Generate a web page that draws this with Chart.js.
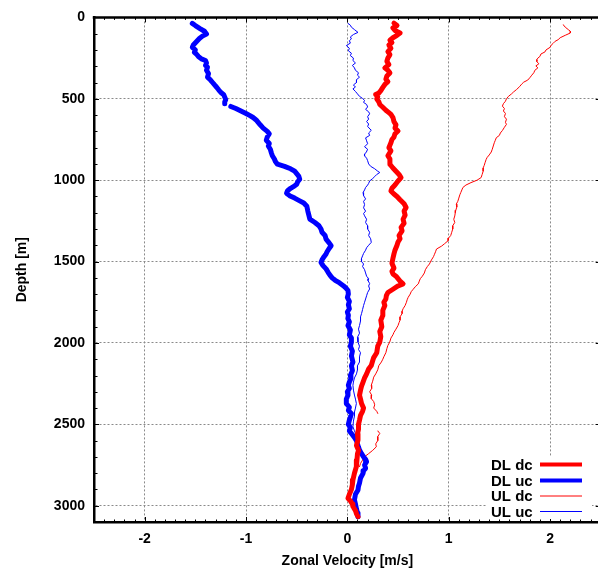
<!DOCTYPE html>
<html>
<head>
<meta charset="utf-8">
<title>Zonal Velocity Profiles</title>
<script src="https://cdn.jsdelivr.net/npm/chart.js@4/dist/chart.umd.min.js"></script>
<style>
  html, body { margin: 0; padding: 0; background: #fff; overflow: hidden; }
  #wrap { position: absolute; left: 0; top: 0; width: 604px; height: 572px; }
</style>
</head>
<body>
<div id="wrap"><canvas id="c" width="604" height="572"></canvas></div>
<script>
// Axis ticks
const velocityTicks = [-2, -1, 0, 1, 2];
const depthTicks = [0, 500, 1000, 1500, 2000, 2500, 3000];

// DL dc (downcast, lowered ADCP)
const depthDLdc = [35, 50, 65, 80, 96, 110, 125, 140, 155, 170, 190, 210, 229, 250, 270, 290, 310, 325, 341, 360,
  380, 395, 412, 430, 450, 465, 474, 487, 500, 518, 535, 552, 570, 585, 596, 615, 640, 660, 680, 698,
  715, 735, 750, 770, 800, 820, 850, 870, 902, 925, 945, 965, 984, 1005, 1030, 1050, 1066, 1085, 1100, 1120,
  1145, 1168, 1190, 1215, 1240, 1265, 1290, 1311, 1340, 1360, 1380, 1400, 1430, 1453, 1480, 1510, 1540, 1560, 1576, 1590,
  1605, 1620, 1637, 1650, 1670, 1690, 1709, 1730, 1750, 1770, 1800, 1831, 1860, 1900, 1930, 1960, 1995, 2020, 2060, 2090,
  2110, 2138, 2160, 2190, 2215, 2240, 2265, 2290, 2321, 2345, 2372, 2400, 2420, 2445, 2474, 2500, 2530, 2560, 2597, 2630,
  2660, 2680, 2720, 2760, 2800, 2842, 2870, 2900, 2930, 2954, 2970, 2990, 3005, 3030, 3050, 3067];
const velDLdc = [0.46, 0.49, 0.45, 0.47, 0.52, 0.49, 0.45, 0.42, 0.44, 0.41, 0.43, 0.40, 0.42, 0.40, 0.39, 0.41, 0.37, 0.40, 0.42, 0.39,
  0.38, 0.40, 0.37, 0.35, 0.33, 0.31, 0.28, 0.30, 0.29, 0.31, 0.32, 0.35, 0.38, 0.41, 0.43, 0.45, 0.46, 0.48, 0.47, 0.50,
  0.47, 0.46, 0.44, 0.43, 0.41, 0.43, 0.40, 0.42, 0.42, 0.45, 0.48, 0.51, 0.53, 0.50, 0.47, 0.44, 0.43, 0.46, 0.49, 0.52,
  0.56, 0.58, 0.56, 0.57, 0.55, 0.56, 0.53, 0.54, 0.51, 0.52, 0.50, 0.49, 0.47, 0.46, 0.45, 0.44, 0.46, 0.44, 0.45, 0.48,
  0.50, 0.52, 0.55, 0.50, 0.45, 0.40, 0.385, 0.38, 0.36, 0.37, 0.35, 0.35, 0.33, 0.34, 0.32, 0.33, 0.32, 0.30, 0.29, 0.26,
  0.25, 0.236, 0.21, 0.19, 0.17, 0.155, 0.14, 0.13, 0.12, 0.13, 0.14, 0.16, 0.15, 0.13, 0.12, 0.11, 0.11, 0.10, 0.105, 0.09,
  0.11, 0.10, 0.095, 0.089, 0.07, 0.055, 0.05, 0.04, 0.02, 0.006, 0.03, 0.05, 0.055, 0.08, 0.09, 0.105];

// DL uc (upcast, lowered ADCP)
const depthDLuc = [37, 50, 70, 85, 102, 115, 130, 150, 170, 184, 200, 215, 225, 240, 255, 265, 280, 295, 306, 325,
  345, 367, 385, 400, 415, 429, 445, 460, 475, 490, 505, 520, 530, null, 547, 560, 575, 590, 602, 615,
  630, 645, 660, 680, 700, 715, 735, 755, 775, 790, 810, 831, 850, 870, 885, 902, 915, 930, 945, 960,
  975, 994, 1010, 1025, 1035, 1050, 1065, 1080, 1095, 1110, 1127, 1140, 1160, 1190, 1215, 1239, 1260, 1280, 1300, 1320,
  1340, 1362, 1385, 1403, 1420, 1440, 1453, 1470, 1490, 1505, 1525, 1545, 1566, 1585, 1600, 1615, 1630, 1648, 1665, 1678,
  1700, 1720, 1745, 1765, 1790, 1810, 1830, 1850, 1870, 1893, 1920, 1950, 1970, 1995, 2020, 2050, 2080, 2117, 2140, 2170,
  2200, 2220, 2240, 2260, 2280, 2300, 2321, 2345, 2372, 2395, 2415, 2433, 2455, 2474, 2500, 2520, 2540, 2556, 2580, 2600,
  2620, 2640, 2658, 2680, 2700, 2715, 2730, 2750, 2770, 2785, 2801, 2830, 2860, 2880, 2903, 2930, 2964, 2990, 3020, 3045,
  3067];
const velDLuc = [-1.53, -1.50, -1.45, -1.41, -1.39, -1.43, -1.46, -1.49, -1.52, -1.53, -1.50, -1.51, -1.49, -1.47, -1.44, -1.40, -1.39, -1.40, -1.38, -1.39,
  -1.37, -1.38, -1.35, -1.33, -1.31, -1.29, -1.27, -1.25, -1.22, -1.21, -1.20, -1.21, -1.21, null, -1.15, -1.10, -1.05, -1.00, -0.965, -0.93,
  -0.90, -0.88, -0.86, -0.83, -0.79, -0.77, -0.79, -0.80, -0.77, -0.78, -0.76, -0.75, -0.74, -0.72, -0.71, -0.69, -0.62, -0.56, -0.52, -0.50,
  -0.48, -0.47, -0.49, -0.50, -0.52, -0.56, -0.59, -0.60, -0.57, -0.52, -0.47, -0.43, -0.40, -0.39, -0.38, -0.37, -0.32, -0.28, -0.26, -0.25,
  -0.22, -0.21, -0.18, -0.16, -0.18, -0.20, -0.21, -0.23, -0.25, -0.26, -0.24, -0.21, -0.19, -0.17, -0.15, -0.12, -0.08, -0.04, -0.01, 0.006,
  0.01, 0.00, 0.02, 0.01, 0.02, 0.00, 0.01, 0.005, 0.02, 0.006, 0.03, 0.02, 0.04, 0.04, 0.03, 0.05, 0.04, 0.055, 0.04, 0.05,
  0.03, 0.035, 0.02, 0.01, 0.02, 0.00, 0.006, -0.01, -0.01, 0.02, 0.01, 0.04, 0.03, 0.02, 0.01, 0.03, 0.02, 0.04, 0.07, 0.09,
  0.10, 0.11, 0.12, 0.14, 0.16, 0.18, 0.19, 0.17, 0.18, 0.16, 0.155, 0.13, 0.12, 0.11, 0.105, 0.08, 0.07, 0.08, 0.09, 0.10,
  0.105];

// UL dc (downcast, upward-looking ADCP)
const depthULdc = [45, 60, 75, 85, 96, 110, 125, 137, 147, 160, 172, 184, 200, 212, 225, 240, 250, 259, 272, 285,
  298, 310, 325, 340, 355, 371, 385, 398, 410, 425, 443, 458, 470, 485, 500, 515, 530, 545, 560, 575,
  590, 610, 625, 645, 657, 675, 695, 710, 725, 739, 755, 770, 790, 810, 827, 845, 860, 872, 890, 910,
  925, 945, 965, 984, 1000, 1015, 1030, 1045, 1060, 1075, 1090, 1110, 1130, 1147, 1165, 1185, 1200, 1220, 1240, 1260,
  1280, 1300, 1320, 1340, 1355, 1372, 1390, 1405, 1423, 1440, 1455, 1470, 1490, 1515, 1530, 1550, 1570, 1590, 1605, 1620,
  1637, 1655, 1670, 1685, 1700, 1720, 1735, 1750, 1770, 1790, 1805, 1820, 1840, 1860, 1875, 1893, 1915, 1935, 1950, 1970,
  1995, 2015, 2035, 2060, 2085, 2100, 2117, 2140, 2165, 2190, 2210, 2235, 2260, 2280, 2300, 2320, 2342, 2360, 2380, 2400,
  2420, 2433, null, 2540, 2556, 2575, 2600, 2620, 2638, 2660, 2680, 2699, 2720, 2740, 2760];
const velULdc = [2.13, 2.15, 2.18, 2.20, 2.20, 2.15, 2.10, 2.08, 2.05, 2.03, 2.01, 2.00, 1.96, 1.95, 1.91, 1.90, 1.88, 1.87, 1.87, 1.89,
  1.86, 1.88, 1.85, 1.84, 1.82, 1.80, 1.78, 1.74, 1.72, 1.70, 1.67, 1.64, 1.62, 1.59, 1.57, 1.56, 1.54, 1.53, 1.55, 1.54,
  1.56, 1.55, 1.57, 1.56, 1.57, 1.55, 1.53, 1.51, 1.50, 1.47, 1.46, 1.45, 1.44, 1.43, 1.42, 1.40, 1.38, 1.37, 1.36, 1.35,
  1.34, 1.34, 1.33, 1.32, 1.28, 1.22, 1.17, 1.14, 1.13, 1.12, 1.11, 1.10, 1.09, 1.075, 1.08, 1.07, 1.065, 1.06, 1.05, 1.06,
  1.04, 1.04, 1.03, 1.02, 1.00, 0.994, 0.96, 0.93, 0.88, 0.87, 0.86, 0.85, 0.83, 0.81, 0.79, 0.77, 0.76, 0.74, 0.72, 0.71,
  0.70, 0.67, 0.65, 0.63, 0.62, 0.60, 0.59, 0.583, 0.57, 0.55, 0.54, 0.54, 0.52, 0.52, 0.51, 0.50, 0.48, 0.46, 0.45, 0.43,
  0.418, 0.40, 0.39, 0.38, 0.36, 0.35, 0.336, 0.31, 0.30, 0.28, 0.26, 0.25, 0.236, 0.24, 0.22, 0.24, 0.236, 0.26, 0.27, 0.26,
  0.29, 0.30, null, 0.30, 0.32, 0.30, 0.30, 0.28, 0.286, 0.25, 0.21, 0.17, 0.15, 0.13, 0.12];

// UL uc (upcast, upward-looking ADCP)
const depthULuc = [37, 48, 60, 75, 92, 105, 120, 132, 143, 158, 173, 190, 205, 220, 235, 250, 265, 280, 295, 310,
  325, 340, 355, 367, 383, 400, 415, 428, 439, 455, 470, 485, 498, 510, 522, 535, 550, 565, 580, 592,
  610, 625, 640, 655, 670, 694, 710, 725, 740, 758, 776, 795, 810, 827, 840, 851, 865, 880, 900, 915,
  930, 945, 953, 965, 978, 990, 1005, 1020, 1030, 1045, 1060, 1076, 1095, 1115, 1130, 1150, 1170, 1190, 1205, 1219,
  1240, 1260, 1280, 1300, 1320, 1340, 1360, 1382, 1400, 1415, 1430, 1450, 1465, 1484, 1500, 1515, 1530, 1550, 1570, 1590,
  1605, 1617, 1635, 1650, 1668, 1690, 1710, 1730, 1750, 1770, 1795, 1820, 1840, 1865, 1893, 1915, 1940, 1965, 1995, 2020,
  2040, 2060, 2085, 2117, 2140, 2165, 2190, 2215, 2240, 2260, 2290, 2320, 2345, 2372, 2400, 2425, 2450, 2480, 2515, 2540,
  2570, 2600, 2630, 2655, 2678, 2700, 2730, 2760, 2790, 2820, 2850, 2883, 2910, 2940, 2960, 2985, 3010, 3040, 3067];
const velULuc = [0.006, 0.03, 0.04, 0.07, 0.105, 0.06, 0.03, 0.04, 0.02, 0.03, -0.01, 0.02, 0.01, 0.04, 0.03, 0.06, 0.055, 0.08, 0.05, 0.07,
  0.08, 0.11, 0.10, 0.12, 0.09, 0.09, 0.06, 0.08, 0.055, 0.08, 0.10, 0.12, 0.15, 0.17, 0.16, 0.19, 0.20, 0.18, 0.21, 0.22,
  0.20, 0.21, 0.19, 0.21, 0.20, 0.236, 0.21, 0.22, 0.18, 0.19, 0.20, 0.17, 0.20, 0.188, 0.17, 0.17, 0.19, 0.20, 0.21, 0.23,
  0.27, 0.30, 0.32, 0.29, 0.27, 0.25, 0.22, 0.21, 0.20, 0.18, 0.17, 0.155, 0.16, 0.18, 0.16, 0.17, 0.16, 0.18, 0.16, 0.17,
  0.19, 0.18, 0.20, 0.20, 0.22, 0.21, 0.23, 0.236, 0.21, 0.19, 0.18, 0.16, 0.15, 0.138, 0.14, 0.16, 0.15, 0.17, 0.18, 0.19,
  0.21, 0.204, 0.22, 0.21, 0.22, 0.20, 0.19, 0.18, 0.17, 0.16, 0.15, 0.14, 0.13, 0.13, 0.12, 0.11, 0.12, 0.10, 0.105, 0.12,
  0.11, 0.13, 0.12, 0.12, 0.10, 0.10, 0.09, 0.07, 0.06, 0.055, 0.06, 0.07, 0.08, 0.089, 0.08, 0.07, 0.07, 0.06, 0.055, 0.07,
  0.09, 0.10, 0.12, 0.13, 0.138, 0.15, 0.16, 0.17, 0.15, 0.13, 0.12, 0.105, 0.09, 0.08, 0.075, 0.07, 0.08, 0.09, 0.105];

const seriesNames = ['DL dc', 'DL uc', 'UL dc', 'UL uc'];
const seriesColors = ['#ff0000', '#0000ff', '#ff0000', '#0000ff'];
const seriesWidths = [5, 5, 1, 1];

function profile(vel, depth) {
  return vel.map((v, i) => ({ x: v, y: depth[i] }));
}

const profiles = [
  profile(velDLdc, depthDLdc),
  profile(velDLuc, depthDLuc),
  profile(velULdc, depthULdc),
  profile(velULuc, depthULuc)
];

const FONT = '"Liberation Sans", Arial, sans-serif';

// Frame details: top border, minor ticks and the legend box with line samples
const frameAndLegend = {
  id: 'frameAndLegend',
  afterDraw(chart) {
    const { ctx, chartArea: a, scales } = chart;
    const xs = scales.x, ys = scales.y;
    ctx.save();
    ctx.strokeStyle = '#000';
    // top border
    ctx.lineWidth = 2.5;
    ctx.beginPath();
    ctx.moveTo(a.left - 1.25, a.top);
    ctx.lineTo(a.right, a.top);
    ctx.stroke();
    // minor ticks
    ctx.lineWidth = 1;
    ctx.beginPath();
    for (let d = 100; d < 3100; d += 100) {
      const y = Math.round(ys.getPixelForValue(d)) + 0.5;
      const len = d % 500 === 0 ? 5 : 3.5;
      ctx.moveTo(a.left, y); ctx.lineTo(a.left + len, y);
      if (d % 500 === 0) { ctx.moveTo(a.right, y); ctx.lineTo(a.right - 5, y); }
    }
    for (let k = -24; k <= 24; k++) {
      const v = k / 10;
      const x = Math.round(xs.getPixelForValue(v)) + 0.5;
      const len = k % 10 === 0 ? 5 : 2.5;
      ctx.moveTo(x, a.bottom); ctx.lineTo(x, a.bottom - len);
      ctx.moveTo(x, a.top); ctx.lineTo(x, a.top + len);
    }
    ctx.stroke();

    // legend
    const lx = 486, ly = 456, lw = 106, lh = 63;
    ctx.fillStyle = '#fff';
    ctx.fillRect(lx, ly, lw, lh);
    ctx.font = 'bold 15px ' + FONT;
    ctx.textAlign = 'left';
    ctx.textBaseline = 'middle';
    const rows = [464.5, 480.5, 496, 511.5];
    seriesNames.forEach((name, i) => {
      ctx.fillStyle = '#000';
      ctx.fillText(name, 491, rows[i] + 1);
      ctx.strokeStyle = seriesColors[i];
      ctx.lineWidth = i < 2 ? 4 : 1;
      ctx.beginPath();
      ctx.moveTo(540, rows[i]);
      ctx.lineTo(582, rows[i]);
      ctx.stroke();
    });
    ctx.restore();
  }
};

new Chart(document.getElementById('c'), {
  type: 'scatter',
  data: {
    datasets: profiles.map((pts, i) => ({
      label: seriesNames[i],
      data: pts,
      showLine: true,
      spanGaps: false,
      borderColor: seriesColors[i],
      backgroundColor: seriesColors[i],
      borderWidth: seriesWidths[i],
      pointRadius: 0,
      pointHoverRadius: 0,
      tension: 0,
      borderJoinStyle: 'round',
      borderCapStyle: 'round'
    }))
  },
  options: {
    responsive: false,
    animation: false,
    events: [],
    layout: { padding: { left: 0, top: 16, right: 3.3, bottom: 0 } },
    plugins: { legend: { display: false }, tooltip: { enabled: false } },
    scales: {
      x: {
        type: 'linear',
        min: -2.5,
        max: 2.5,
        afterBuildTicks: s => { s.ticks = velocityTicks.map(v => ({ value: v })); },
        afterFit: s => { s.height = 50; },
        ticks: {
          color: '#000',
          font: { family: FONT, size: 14, weight: 'bold' },
          padding: 9,
          maxRotation: 0,
          callback: v => String(v)
        },
        grid: { color: '#8a8a8a', lineWidth: 1, drawTicks: false },
        border: { color: '#000', width: 2.5, dash: [2, 2] },
        title: {
          display: true,
          text: 'Zonal Velocity [m/s]',
          color: '#000',
          font: { family: FONT, size: 14, weight: 'bold' },
          padding: { top: 0, bottom: 2 }
        }
      },
      y: {
        type: 'linear',
        reverse: true,
        min: 0,
        max: 3100,
        afterBuildTicks: s => { s.ticks = depthTicks.map(v => ({ value: v })); },
        afterFit: s => { s.width = 94; },
        ticks: {
          color: '#000',
          font: { family: FONT, size: 14, weight: 'bold' },
          padding: 9,
          callback: v => String(v)
        },
        grid: { color: '#8a8a8a', lineWidth: 1, drawTicks: false },
        border: { color: '#000', width: 2.5, dash: [2, 2] },
        title: {
          display: true,
          text: 'Depth [m]',
          color: '#000',
          font: { family: FONT, size: 14, weight: 'bold' },
          padding: { top: 14, bottom: 0 }
        }
      }
    }
  },
  plugins: [frameAndLegend]
});
</script>
</body>
</html>
